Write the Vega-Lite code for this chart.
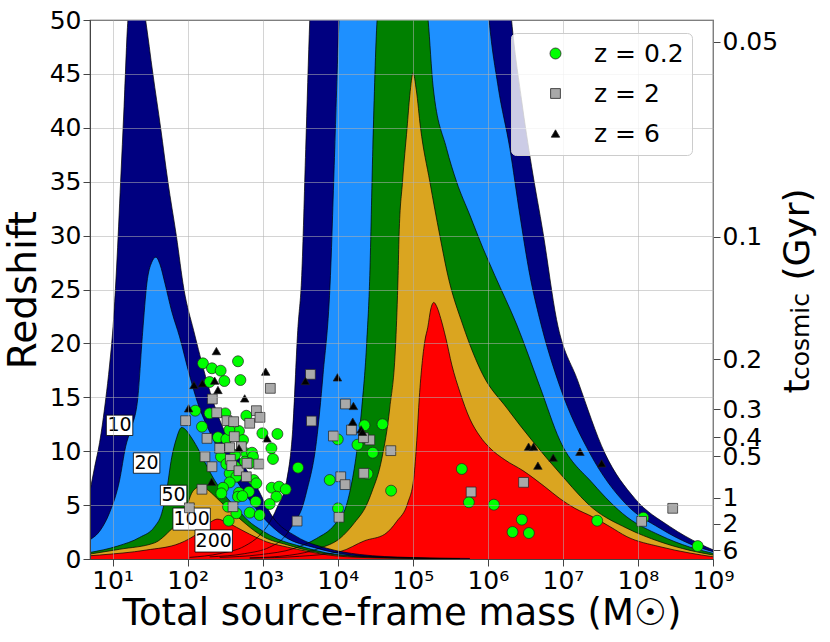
{
  "$schema": "https://vega.github.io/schema/vega-lite/v6.json",
  "width": 623,
  "height": 539,
  "autosize": {"type": "none"},
  "padding": {"left": 90, "top": 20, "right": 117, "bottom": 83},
  "config": {
    "font": "DejaVu Sans",
    "view": {"stroke": "#444", "strokeWidth": 1.2},
    "axis": {
      "labelColor": "#000", "titleColor": "#000", "tickColor": "#444", "domainColor": "#444",
      "labelFontSize": 25, "tickSize": 7, "labelPadding": 2, "titleFontWeight": "normal", "labelOverlap": false
    }
  },
  "datasets": {
    "curves": [
      {"det":"B","snr":10,"lm":2.027,"z":0.15},{"det":"B","snr":10,"lm":2.427,"z":0.5},{"det":"B","snr":10,"lm":2.76,"z":1.2},{"det":"B","snr":10,"lm":2.96,"z":2.2},{"det":"B","snr":10,"lm":3.093,"z":3.4},{"det":"B","snr":10,"lm":3.187,"z":4.7},{"det":"B","snr":10,"lm":3.32,"z":7.3},{"det":"B","snr":10,"lm":3.4,"z":12},{"det":"B","snr":10,"lm":3.467,"z":21.2},{"det":"B","snr":10,"lm":3.52,"z":26.3},{"det":"B","snr":10,"lm":3.573,"z":38},{"det":"B","snr":10,"lm":3.627,"z":50},{"det":"B","snr":10,"lm":3.76,"z":65},{"det":"B","snr":10,"lm":4.96,"z":75},{"det":"B","snr":10,"lm":6.16,"z":65},{"det":"B","snr":10,"lm":6.316,"z":50},{"det":"B","snr":10,"lm":6.449,"z":42.6},{"det":"B","snr":10,"lm":6.583,"z":36.4},{"det":"B","snr":10,"lm":6.737,"z":30.2},{"det":"B","snr":10,"lm":6.916,"z":22.2},{"det":"B","snr":10,"lm":7.2,"z":16.5},{"det":"B","snr":10,"lm":7.56,"z":9.8},{"det":"B","snr":10,"lm":7.96,"z":5.6},{"det":"B","snr":10,"lm":8.427,"z":3.0},{"det":"B","snr":10,"lm":8.827,"z":1.4},{"det":"B","snr":10,"lm":9.0,"z":0.85},
      {"det":"B","snr":20,"lm":2.293,"z":0.2},{"det":"B","snr":20,"lm":2.76,"z":0.5},{"det":"B","snr":20,"lm":3.093,"z":1.1},{"det":"B","snr":20,"lm":3.271,"z":1.9},{"det":"B","snr":20,"lm":3.4,"z":3.15},{"det":"B","snr":20,"lm":3.537,"z":5.0},{"det":"B","snr":20,"lm":3.583,"z":6.2},{"det":"B","snr":20,"lm":3.716,"z":10.9},{"det":"B","snr":20,"lm":3.804,"z":17.1},{"det":"B","snr":20,"lm":3.903,"z":26.3},{"det":"B","snr":20,"lm":3.96,"z":38},{"det":"B","snr":20,"lm":4.017,"z":50},{"det":"B","snr":20,"lm":4.16,"z":62},{"det":"B","snr":20,"lm":5.027,"z":70},{"det":"B","snr":20,"lm":5.893,"z":62},{"det":"B","snr":20,"lm":6.017,"z":50},{"det":"B","snr":20,"lm":6.137,"z":43.8},{"det":"B","snr":20,"lm":6.293,"z":38.1},{"det":"B","snr":20,"lm":6.427,"z":31.9},{"det":"B","snr":20,"lm":6.56,"z":26.3},{"det":"B","snr":20,"lm":6.693,"z":22.2},{"det":"B","snr":20,"lm":6.96,"z":16},{"det":"B","snr":20,"lm":7.36,"z":9.8},{"det":"B","snr":20,"lm":7.853,"z":5.0},{"det":"B","snr":20,"lm":8.293,"z":2.85},{"det":"B","snr":20,"lm":8.693,"z":1.4},{"det":"B","snr":20,"lm":9.0,"z":0.68},
      {"det":"B","snr":50,"lm":2.427,"z":0.15},{"det":"B","snr":50,"lm":2.96,"z":0.4},{"det":"B","snr":50,"lm":3.427,"z":1.0},{"det":"B","snr":50,"lm":3.716,"z":1.9},{"det":"B","snr":50,"lm":3.96,"z":3.2},{"det":"B","snr":50,"lm":4.116,"z":5.0},{"det":"B","snr":50,"lm":4.16,"z":6.2},{"det":"B","snr":50,"lm":4.24,"z":9.3},{"det":"B","snr":50,"lm":4.32,"z":14},{"det":"B","snr":50,"lm":4.387,"z":20.2},{"det":"B","snr":50,"lm":4.427,"z":26.3},{"det":"B","snr":50,"lm":4.467,"z":38},{"det":"B","snr":50,"lm":4.524,"z":50},{"det":"B","snr":50,"lm":4.627,"z":56},{"det":"B","snr":50,"lm":4.867,"z":59},{"det":"B","snr":50,"lm":5.093,"z":56},{"det":"B","snr":50,"lm":5.204,"z":50},{"det":"B","snr":50,"lm":5.271,"z":43.8},{"det":"B","snr":50,"lm":5.449,"z":38.1},{"det":"B","snr":50,"lm":5.583,"z":35},{"det":"B","snr":50,"lm":5.76,"z":31.9},{"det":"B","snr":50,"lm":5.937,"z":28.8},{"det":"B","snr":50,"lm":6.093,"z":26.3},{"det":"B","snr":50,"lm":6.387,"z":21.7},{"det":"B","snr":50,"lm":6.693,"z":16},{"det":"B","snr":50,"lm":6.96,"z":11.0},{"det":"B","snr":50,"lm":7.4,"z":7.0},{"det":"B","snr":50,"lm":7.853,"z":3.9},{"det":"B","snr":50,"lm":8.293,"z":2.2},{"det":"B","snr":50,"lm":8.693,"z":1.1},{"det":"B","snr":50,"lm":9.0,"z":0.53},
      {"det":"B","snr":100,"lm":2.827,"z":0.1},{"det":"B","snr":100,"lm":3.36,"z":0.35},{"det":"B","snr":100,"lm":3.76,"z":1.0},{"det":"B","snr":100,"lm":4.027,"z":1.9},{"det":"B","snr":100,"lm":4.227,"z":3.4},{"det":"B","snr":100,"lm":4.383,"z":5.0},{"det":"B","snr":100,"lm":4.453,"z":6.2},{"det":"B","snr":100,"lm":4.587,"z":9.3},{"det":"B","snr":100,"lm":4.693,"z":14},{"det":"B","snr":100,"lm":4.773,"z":20.2},{"det":"B","snr":100,"lm":4.804,"z":26.3},{"det":"B","snr":100,"lm":4.817,"z":30},{"det":"B","snr":100,"lm":4.863,"z":35},{"det":"B","snr":100,"lm":4.924,"z":40},{"det":"B","snr":100,"lm":4.96,"z":43},{"det":"B","snr":100,"lm":5.004,"z":45.1},{"det":"B","snr":100,"lm":5.047,"z":43.5},{"det":"B","snr":100,"lm":5.103,"z":40},{"det":"B","snr":100,"lm":5.227,"z":35},{"det":"B","snr":100,"lm":5.36,"z":30},{"det":"B","snr":100,"lm":5.467,"z":26.3},{"det":"B","snr":100,"lm":5.667,"z":21.7},{"det":"B","snr":100,"lm":5.933,"z":17.1},{"det":"B","snr":100,"lm":6.253,"z":14},{"det":"B","snr":100,"lm":6.6,"z":10.9},{"det":"B","snr":100,"lm":6.96,"z":7.95},{"det":"B","snr":100,"lm":7.4,"z":4.7},{"det":"B","snr":100,"lm":7.853,"z":2.85},{"det":"B","snr":100,"lm":8.293,"z":1.6},{"det":"B","snr":100,"lm":8.693,"z":0.8},{"det":"B","snr":100,"lm":9.0,"z":0.37},
      {"det":"B","snr":200,"lm":2.827,"z":0.08},{"det":"B","snr":200,"lm":3.493,"z":0.25},{"det":"B","snr":200,"lm":4.027,"z":0.68},{"det":"B","snr":200,"lm":4.36,"z":1.7},{"det":"B","snr":200,"lm":4.627,"z":2.3},{"det":"B","snr":200,"lm":4.787,"z":3.5},{"det":"B","snr":200,"lm":4.933,"z":5.2},{"det":"B","snr":200,"lm":5.013,"z":7.5},{"det":"B","snr":200,"lm":5.053,"z":11},{"det":"B","snr":200,"lm":5.087,"z":15},{"det":"B","snr":200,"lm":5.16,"z":20.2},{"det":"B","snr":200,"lm":5.2,"z":21.5},{"det":"B","snr":200,"lm":5.24,"z":23.2},{"det":"B","snr":200,"lm":5.28,"z":23.8},{"det":"B","snr":200,"lm":5.32,"z":23.4},{"det":"B","snr":200,"lm":5.373,"z":22.3},{"det":"B","snr":200,"lm":5.44,"z":20.5},{"det":"B","snr":200,"lm":5.52,"z":18.0},{"det":"B","snr":200,"lm":5.627,"z":15.5},{"det":"B","snr":200,"lm":5.76,"z":13.0},{"det":"B","snr":200,"lm":5.893,"z":11.4},{"det":"B","snr":200,"lm":6.027,"z":10.3},{"det":"B","snr":200,"lm":6.227,"z":9.2},{"det":"B","snr":200,"lm":6.467,"z":8.2},{"det":"B","snr":200,"lm":6.76,"z":6.7},{"det":"B","snr":200,"lm":6.96,"z":5.6},{"det":"B","snr":200,"lm":7.16,"z":4.7},{"det":"B","snr":200,"lm":7.4,"z":3.9},{"det":"B","snr":200,"lm":7.627,"z":3.0},{"det":"B","snr":200,"lm":7.853,"z":2.07},{"det":"B","snr":200,"lm":8.293,"z":1.14},{"det":"B","snr":200,"lm":8.693,"z":0.55},{"det":"B","snr":200,"lm":9.0,"z":0.21},
      {"det":"A","snr":10,"lm":0.693,"z":6.1},{"det":"A","snr":10,"lm":0.76,"z":8.5},{"det":"A","snr":10,"lm":0.827,"z":10.8},{"det":"A","snr":10,"lm":0.907,"z":14.75},{"det":"A","snr":10,"lm":0.96,"z":18},{"det":"A","snr":10,"lm":1.013,"z":22.2},{"det":"A","snr":10,"lm":1.053,"z":27},{"det":"A","snr":10,"lm":1.107,"z":35},{"det":"A","snr":10,"lm":1.153,"z":42},{"det":"A","snr":10,"lm":1.204,"z":50},{"det":"A","snr":10,"lm":1.267,"z":53},{"det":"A","snr":10,"lm":1.32,"z":54},{"det":"A","snr":10,"lm":1.373,"z":53},{"det":"A","snr":10,"lm":1.44,"z":50},{"det":"A","snr":10,"lm":1.537,"z":45},{"det":"A","snr":10,"lm":1.64,"z":40},{"det":"A","snr":10,"lm":1.737,"z":35},{"det":"A","snr":10,"lm":1.849,"z":30},{"det":"A","snr":10,"lm":1.951,"z":25},{"det":"A","snr":10,"lm":2.08,"z":21.2},{"det":"A","snr":10,"lm":2.333,"z":14.75},{"det":"A","snr":10,"lm":2.427,"z":12.9},{"det":"A","snr":10,"lm":2.653,"z":9.8},{"det":"A","snr":10,"lm":2.92,"z":6.7},{"det":"A","snr":10,"lm":3.133,"z":3.9},{"det":"A","snr":10,"lm":3.453,"z":2.07},{"det":"A","snr":10,"lm":3.853,"z":1.0},{"det":"A","snr":10,"lm":4.293,"z":0.42},{"det":"A","snr":10,"lm":4.96,"z":0.14},{"det":"A","snr":10,"lm":5.76,"z":0.05},
      {"det":"A","snr":20,"lm":0.693,"z":1.76},{"det":"A","snr":20,"lm":0.84,"z":2.7},{"det":"A","snr":20,"lm":0.96,"z":4.3},{"det":"A","snr":20,"lm":1.093,"z":7.3},{"det":"A","snr":20,"lm":1.173,"z":10.4},{"det":"A","snr":20,"lm":1.24,"z":12},{"det":"A","snr":20,"lm":1.333,"z":14.75},{"det":"A","snr":20,"lm":1.4,"z":21},{"det":"A","snr":20,"lm":1.457,"z":25.6},{"det":"A","snr":20,"lm":1.52,"z":27.5},{"det":"A","snr":20,"lm":1.577,"z":28.0},{"det":"A","snr":20,"lm":1.633,"z":27.3},{"det":"A","snr":20,"lm":1.697,"z":25.6},{"det":"A","snr":20,"lm":1.787,"z":23},{"det":"A","snr":20,"lm":1.893,"z":20.6},{"det":"A","snr":20,"lm":2.027,"z":17},{"det":"A","snr":20,"lm":2.133,"z":14.5},{"det":"A","snr":20,"lm":2.293,"z":11.8},{"det":"A","snr":20,"lm":2.52,"z":8.8},{"det":"A","snr":20,"lm":2.773,"z":6},{"det":"A","snr":20,"lm":3.0,"z":3.9},{"det":"A","snr":20,"lm":3.293,"z":2.07},{"det":"A","snr":20,"lm":3.693,"z":1.05},{"det":"A","snr":20,"lm":4.16,"z":0.38},{"det":"A","snr":20,"lm":4.827,"z":0.12},{"det":"A","snr":20,"lm":5.627,"z":0.04},
      {"det":"A","snr":50,"lm":0.693,"z":0.6},{"det":"A","snr":50,"lm":1.067,"z":1.2},{"det":"A","snr":50,"lm":1.36,"z":2.0},{"det":"A","snr":50,"lm":1.56,"z":3.0},{"det":"A","snr":50,"lm":1.653,"z":4.2},{"det":"A","snr":50,"lm":1.713,"z":6.0},{"det":"A","snr":50,"lm":1.787,"z":9.4},{"det":"A","snr":50,"lm":1.847,"z":11.1},{"det":"A","snr":50,"lm":1.92,"z":12.2},{"det":"A","snr":50,"lm":1.973,"z":12.0},{"det":"A","snr":50,"lm":2.027,"z":11.5},{"det":"A","snr":50,"lm":2.133,"z":10.3},{"det":"A","snr":50,"lm":2.227,"z":9.0},{"det":"A","snr":50,"lm":2.36,"z":7.3},{"det":"A","snr":50,"lm":2.533,"z":5.6},{"det":"A","snr":50,"lm":2.667,"z":4.6},{"det":"A","snr":50,"lm":2.8,"z":3.6},{"det":"A","snr":50,"lm":3.0,"z":2.6},{"det":"A","snr":50,"lm":3.2,"z":1.85},{"det":"A","snr":50,"lm":3.493,"z":1.2},{"det":"A","snr":50,"lm":3.96,"z":0.45},{"det":"A","snr":50,"lm":4.827,"z":0.1},{"det":"A","snr":50,"lm":5.627,"z":0.03},
      {"det":"A","snr":100,"lm":0.693,"z":0.45},{"det":"A","snr":100,"lm":1.093,"z":0.9},{"det":"A","snr":100,"lm":1.56,"z":1.5},{"det":"A","snr":100,"lm":1.76,"z":2.6},{"det":"A","snr":100,"lm":1.893,"z":3.6},{"det":"A","snr":100,"lm":1.987,"z":4.85},{"det":"A","snr":100,"lm":2.053,"z":6.1},{"det":"A","snr":100,"lm":2.107,"z":6.55},{"det":"A","snr":100,"lm":2.16,"z":6.7},{"det":"A","snr":100,"lm":2.227,"z":6.6},{"det":"A","snr":100,"lm":2.32,"z":6.1},{"det":"A","snr":100,"lm":2.44,"z":5.3},{"det":"A","snr":100,"lm":2.667,"z":3.9},{"det":"A","snr":100,"lm":2.893,"z":2.6},{"det":"A","snr":100,"lm":3.0,"z":2.1},{"det":"A","snr":100,"lm":3.333,"z":1.3},{"det":"A","snr":100,"lm":3.773,"z":0.55},{"det":"A","snr":100,"lm":4.293,"z":0.2},{"det":"A","snr":100,"lm":5.093,"z":0.07},
      {"det":"A","snr":200,"lm":0.693,"z":0.3},{"det":"A","snr":200,"lm":0.827,"z":0.37},{"det":"A","snr":200,"lm":1.449,"z":0.83},{"det":"A","snr":200,"lm":1.893,"z":1.45},{"det":"A","snr":200,"lm":2.137,"z":2.4},{"det":"A","snr":200,"lm":2.267,"z":3.2},{"det":"A","snr":200,"lm":2.333,"z":3.55},{"det":"A","snr":200,"lm":2.4,"z":3.7},{"det":"A","snr":200,"lm":2.493,"z":3.5},{"det":"A","snr":200,"lm":2.649,"z":2.95},{"det":"A","snr":200,"lm":2.827,"z":2.3},{"det":"A","snr":200,"lm":3.049,"z":1.6},{"det":"A","snr":200,"lm":3.333,"z":1.1},{"det":"A","snr":200,"lm":3.583,"z":0.72},{"det":"A","snr":200,"lm":3.983,"z":0.28},{"det":"A","snr":200,"lm":4.56,"z":0.1},{"det":"A","snr":200,"lm":5.36,"z":0.04}
    ],
    "labels": [
      {"label":"10","lm":1.093,"z":12.4},{"label":"20","lm":1.453,"z":8.9},{"label":"50","lm":1.813,"z":5.9},{"label":"100","lm":2.053,"z":3.7},{"label":"200","lm":2.347,"z":1.67}
    ],
    "points": [
      {"series":"z = 0.2","lm":2.204,"z":18.15},{"series":"z = 0.2","lm":2.324,"z":17.69},{"series":"z = 0.2","lm":2.44,"z":17.47},{"series":"z = 0.2","lm":2.671,"z":18.34},{"series":"z = 0.2","lm":2.293,"z":16.42},{"series":"z = 0.2","lm":2.489,"z":16.51},{"series":"z = 0.2","lm":2.703,"z":16.6},{"series":"z = 0.2","lm":2.102,"z":13.76},{"series":"z = 0.2","lm":2.293,"z":13.51},{"series":"z = 0.2","lm":2.502,"z":13.51},{"series":"z = 0.2","lm":2.782,"z":13.29},{"series":"z = 0.2","lm":2.191,"z":12.27},{"series":"z = 0.2","lm":2.404,"z":11.29},{"series":"z = 0.2","lm":2.516,"z":11.13},{"series":"z = 0.2","lm":2.684,"z":11.87},{"series":"z = 0.2","lm":2.556,"z":11.97},{"series":"z = 0.2","lm":2.738,"z":11.04},{"series":"z = 0.2","lm":2.996,"z":11.66},{"series":"z = 0.2","lm":3.196,"z":11.6},{"series":"z = 0.2","lm":3.116,"z":10.27},{"series":"z = 0.2","lm":3.137,"z":9.28},{"series":"z = 0.2","lm":2.444,"z":9.49},{"series":"z = 0.2","lm":2.631,"z":9.65},{"series":"z = 0.2","lm":2.782,"z":9.8},{"series":"z = 0.2","lm":2.858,"z":9.86},{"series":"z = 0.2","lm":2.871,"z":9.49},{"series":"z = 0.2","lm":2.764,"z":9.03},{"series":"z = 0.2","lm":2.516,"z":8.81},{"series":"z = 0.2","lm":2.631,"z":8.56},{"series":"z = 0.2","lm":2.827,"z":8.88},{"series":"z = 0.2","lm":2.56,"z":7.95},{"series":"z = 0.2","lm":2.649,"z":7.63},{"series":"z = 0.2","lm":2.56,"z":7.11},{"series":"z = 0.2","lm":2.88,"z":7.33},{"series":"z = 0.2","lm":2.916,"z":7.02},{"series":"z = 0.2","lm":2.471,"z":6.61},{"series":"z = 0.2","lm":2.449,"z":6.09},{"series":"z = 0.2","lm":2.684,"z":6.15},{"series":"z = 0.2","lm":2.817,"z":6.24},{"series":"z = 0.2","lm":2.671,"z":5.78},{"series":"z = 0.2","lm":2.729,"z":5.84},{"series":"z = 0.2","lm":2.907,"z":5.32},{"series":"z = 0.2","lm":3.12,"z":6.61},{"series":"z = 0.2","lm":3.218,"z":6.71},{"series":"z = 0.2","lm":3.307,"z":6.47},{"series":"z = 0.2","lm":3.182,"z":5.78},{"series":"z = 0.2","lm":3.093,"z":5.1},{"series":"z = 0.2","lm":2.827,"z":4.3},{"series":"z = 0.2","lm":2.96,"z":4.08},{"series":"z = 0.2","lm":2.547,"z":3.55},{"series":"z = 0.2","lm":2.538,"z":4.85},{"series":"z = 0.2","lm":2.649,"z":4.24},{"series":"z = 0.2","lm":3.471,"z":8.47},{"series":"z = 0.2","lm":3.893,"z":7.33},{"series":"z = 0.2","lm":4.004,"z":4.7},{"series":"z = 0.2","lm":4.0,"z":11.1},{"series":"z = 0.2","lm":4.356,"z":12.4},{"series":"z = 0.2","lm":4.596,"z":12.5},{"series":"z = 0.2","lm":4.263,"z":10.6},{"series":"z = 0.2","lm":4.467,"z":9.86},{"series":"z = 0.2","lm":4.396,"z":7.9},{"series":"z = 0.2","lm":4.711,"z":6.34},{"series":"z = 0.2","lm":5.653,"z":8.35},{"series":"z = 0.2","lm":5.747,"z":5.26},{"series":"z = 0.2","lm":6.08,"z":5.04},{"series":"z = 0.2","lm":6.453,"z":3.65},{"series":"z = 0.2","lm":6.329,"z":2.5},{"series":"z = 0.2","lm":6.547,"z":2.41},{"series":"z = 0.2","lm":7.457,"z":3.55},{"series":"z = 0.2","lm":8.071,"z":3.83},{"series":"z = 0.2","lm":8.796,"z":1.2},
      {"series":"z = 2","lm":1.973,"z":12.83},{"series":"z = 2","lm":2.329,"z":14.84},{"series":"z = 2","lm":2.387,"z":13.57},{"series":"z = 2","lm":2.524,"z":12.83},{"series":"z = 2","lm":2.613,"z":12.74},{"series":"z = 2","lm":2.827,"z":12.59},{"series":"z = 2","lm":2.916,"z":13.76},{"series":"z = 2","lm":2.964,"z":13.14},{"series":"z = 2","lm":3.102,"z":15.83},{"series":"z = 2","lm":2.258,"z":11.19},{"series":"z = 2","lm":2.622,"z":11.35},{"series":"z = 2","lm":2.427,"z":10.27},{"series":"z = 2","lm":2.56,"z":10.33},{"series":"z = 2","lm":2.716,"z":10.42},{"series":"z = 2","lm":2.231,"z":9.49},{"series":"z = 2","lm":2.324,"z":8.56},{"series":"z = 2","lm":2.569,"z":9.25},{"series":"z = 2","lm":2.587,"z":8.66},{"series":"z = 2","lm":2.684,"z":8.19},{"series":"z = 2","lm":2.791,"z":8.88},{"series":"z = 2","lm":2.947,"z":8.81},{"series":"z = 2","lm":2.782,"z":7.63},{"series":"z = 2","lm":2.191,"z":6.47},{"series":"z = 2","lm":2.604,"z":4.85},{"series":"z = 2","lm":2.023,"z":4.75},{"series":"z = 2","lm":3.458,"z":3.52},{"series":"z = 2","lm":3.636,"z":17.13},{"series":"z = 2","lm":3.649,"z":12.8},{"series":"z = 2","lm":3.942,"z":11.41},{"series":"z = 2","lm":4.017,"z":3.87},{"series":"z = 2","lm":4.04,"z":7.63},{"series":"z = 2","lm":4.103,"z":14.38},{"series":"z = 2","lm":4.098,"z":6.9},{"series":"z = 2","lm":4.183,"z":11.97},{"series":"z = 2","lm":4.347,"z":7.95},{"series":"z = 2","lm":4.427,"z":11.04},{"series":"z = 2","lm":4.343,"z":11.25},{"series":"z = 2","lm":4.707,"z":10.05},{"series":"z = 2","lm":5.777,"z":6.22},{"series":"z = 2","lm":6.476,"z":7.11},{"series":"z = 2","lm":8.463,"z":4.7},{"series":"z = 2","lm":8.049,"z":3.49},
      {"series":"z = 6","lm":2.383,"z":19.29},{"series":"z = 6","lm":2.084,"z":16.14},{"series":"z = 6","lm":2.196,"z":16.3},{"series":"z = 6","lm":2.36,"z":16.54},{"series":"z = 6","lm":2.404,"z":15.68},{"series":"z = 6","lm":2.76,"z":14.9},{"series":"z = 6","lm":3.04,"z":17.38},{"series":"z = 6","lm":2.013,"z":13.98},{"series":"z = 6","lm":3.057,"z":11.19},{"series":"z = 6","lm":2.684,"z":10.27},{"series":"z = 6","lm":2.32,"z":7.17},{"series":"z = 6","lm":3.569,"z":16.51},{"series":"z = 6","lm":3.996,"z":16.85},{"series":"z = 6","lm":4.209,"z":14.2},{"series":"z = 6","lm":4.2,"z":12.74},{"series":"z = 6","lm":4.311,"z":12.03},{"series":"z = 6","lm":4.329,"z":11.8},{"series":"z = 6","lm":6.543,"z":10.42},{"series":"z = 6","lm":6.609,"z":10.42},{"series":"z = 6","lm":6.667,"z":8.66},{"series":"z = 6","lm":6.871,"z":9.4},{"series":"z = 6","lm":7.227,"z":9.95},{"series":"z = 6","lm":7.516,"z":8.88}
    ]
  },
  "layer": [
    {
      "encoding": {
        "x": {
          "field": "lm", "type": "quantitative",
          "scale": {"domain": [0.699, 9], "nice": false, "zero": false},
          "axis": {
            "values": [1, 2, 3, 4, 5, 6, 7, 8, 9],
            "labelExpr": "'10' + ['⁰','¹','²','³','⁴','⁵','⁶','⁷','⁸','⁹'][datum.value]",
            "labelFlush": false,
            "title": "Total source-frame mass (M☉)", "titleFontSize": 37,
            "titleBaseline": "alphabetic", "titleY": 65,
            "grid": true, "gridColor": "#b0b0b0", "gridOpacity": 0.55, "zindex": 1
          }
        },
        "y": {
          "field": "z", "type": "quantitative",
          "scale": {"domain": [0, 50], "nice": false, "zero": false},
          "axis": {
            "orient": "left",
            "values": [0, 5, 10, 15, 20, 25, 30, 35, 40, 45, 50],
            "labelFlush": false,
            "title": "Redshift", "titleFontSize": 39, "titlePadding": 6,
            "grid": true, "gridColor": "#b0b0b0", "gridOpacity": 0.55, "zindex": 1
          }
        }
      },
      "layer": [
        {"data": {"name": "curves"}, "transform": [{"filter": "datum.det == 'B' && datum.snr == 10"}], "mark": {"type": "area", "color": "#000080", "interpolate": "monotone", "clip": true}, "encoding": {"y2": {"datum": 0}}},
        {"data": {"name": "curves"}, "transform": [{"filter": "datum.det == 'B' && datum.snr == 20"}], "mark": {"type": "area", "color": "#1e90ff", "interpolate": "monotone", "clip": true}, "encoding": {"y2": {"datum": 0}}},
        {"data": {"name": "curves"}, "transform": [{"filter": "datum.det == 'B' && datum.snr == 50"}], "mark": {"type": "area", "color": "#008000", "interpolate": "monotone", "clip": true}, "encoding": {"y2": {"datum": 0}}},
        {"data": {"name": "curves"}, "transform": [{"filter": "datum.det == 'B' && datum.snr == 100"}], "mark": {"type": "area", "color": "#daa520", "interpolate": "monotone", "clip": true}, "encoding": {"y2": {"datum": 0}}},
        {"data": {"name": "curves"}, "transform": [{"filter": "datum.det == 'B' && datum.snr == 200"}], "mark": {"type": "area", "color": "#ff0000", "interpolate": "monotone", "clip": true}, "encoding": {"y2": {"datum": 0}}},
        {"data": {"name": "curves"}, "transform": [{"filter": "datum.det == 'A' && datum.snr == 10"}], "mark": {"type": "area", "color": "#000080", "interpolate": "monotone", "clip": true}, "encoding": {"y2": {"datum": 0}}},
        {"data": {"name": "curves"}, "transform": [{"filter": "datum.det == 'A' && datum.snr == 20"}], "mark": {"type": "area", "color": "#1e90ff", "interpolate": "monotone", "clip": true}, "encoding": {"y2": {"datum": 0}}},
        {"data": {"name": "curves"}, "transform": [{"filter": "datum.det == 'A' && datum.snr == 50"}], "mark": {"type": "area", "color": "#008000", "interpolate": "monotone", "clip": true}, "encoding": {"y2": {"datum": 0}}},
        {"data": {"name": "curves"}, "transform": [{"filter": "datum.det == 'A' && datum.snr == 100"}], "mark": {"type": "area", "color": "#daa520", "interpolate": "monotone", "clip": true}, "encoding": {"y2": {"datum": 0}}},
        {"data": {"name": "curves"}, "transform": [{"filter": "datum.det == 'A' && datum.snr == 200"}], "mark": {"type": "area", "color": "#ff0000", "interpolate": "monotone", "clip": true}, "encoding": {"y2": {"datum": 0}}},
        {
          "data": {"name": "curves"},
          "mark": {"type": "line", "color": "#000", "strokeWidth": 0.7, "interpolate": "monotone", "clip": true},
          "encoding": {"detail": [{"field": "det"}, {"field": "snr"}]}
        },
        {
          "data": {"name": "labels"},
          "transform": [{"filter": "length(datum.label) == 2"}],
          "mark": {"type": "point", "shape": "M-1,-0.77H1V0.77H-1Z", "size": 700, "filled": true, "fill": "#fff", "stroke": "#000", "strokeWidth": 0.8, "opacity": 1}
        },
        {
          "data": {"name": "labels"},
          "transform": [{"filter": "length(datum.label) == 3"}],
          "mark": {"type": "point", "shape": "M-1,-0.59H1V0.59H-1Z", "size": 1400, "filled": true, "fill": "#fff", "stroke": "#000", "strokeWidth": 0.8, "opacity": 1}
        },
        {
          "data": {"name": "labels"},
          "mark": {"type": "text", "fontSize": 19, "align": "center", "baseline": "middle", "color": "#000"},
          "encoding": {"text": {"field": "label"}}
        },
        {
          "data": {"name": "points"},
          "mark": {"type": "point", "filled": true, "stroke": "#222", "strokeWidth": 0.7, "opacity": 1},
          "encoding": {
            "color": {
              "field": "series", "type": "nominal",
              "scale": {"domain": ["z = 0.2", "z = 2", "z = 6"], "range": ["#00ff00", "#a9a9a9", "#000000"]},
              "legend": {"orient": "none", "legendX": 421, "legendY": 13, "title": null, "labelFontSize": 25, "symbolSize": 100, "symbolStrokeColor": "#222", "symbolStrokeWidth": 0.8, "rowPadding": 14, "padding": 8, "symbolOffset": 24, "labelOffset": 26, "fillColor": "rgba(255,255,255,0.8)", "strokeColor": "#cccccc", "cornerRadius": 5, "zindex": 3}
            },
            "shape": {
              "field": "series", "type": "nominal",
              "scale": {"domain": ["z = 0.2", "z = 2", "z = 6"], "range": ["circle", "square", "triangle-up"]},
              "legend": {"orient": "none", "legendX": 421, "legendY": 13, "title": null, "labelFontSize": 25, "symbolSize": 100, "symbolStrokeColor": "#222", "symbolStrokeWidth": 0.8, "rowPadding": 14, "padding": 8, "symbolOffset": 24, "labelOffset": 26, "fillColor": "rgba(255,255,255,0.8)", "strokeColor": "#cccccc", "cornerRadius": 5, "zindex": 3}
            },
            "size": {
              "field": "series", "type": "nominal",
              "scale": {"domain": ["z = 0.2", "z = 2", "z = 6"], "range": [120, 72, 115]},
              "legend": null
            }
          }
        }
      ]
    },
    {
      "data": {"values": [{"z": 0}, {"z": 50}]},
      "mark": {"type": "rule", "opacity": 0},
      "encoding": {
        "y": {
          "field": "z", "type": "quantitative",
          "scale": {"domain": [0, 50], "nice": false, "zero": false},
          "axis": {
            "orient": "right", "grid": false, "labelFlush": false,
            "values": [48, 29.9, 18.55, 13.9, 11.3, 9.55, 5.66, 3.25, 0.83],
            "labelExpr": "datum.value == 48 ? '0.05' : datum.value == 29.9 ? '0.1' : datum.value == 18.55 ? '0.2' : datum.value == 13.9 ? '0.3' : datum.value == 11.3 ? '0.4' : datum.value == 9.55 ? '0.5' : datum.value == 5.66 ? '1' : datum.value == 3.25 ? '2' : '6'",
            "title": "(Gyr)", "titleFontSize": 36, "titleAngle": 270, "titleX": 84, "titleY": 214,
            "titleBaseline": "middle", "titleAlign": "center"
          }
        }
      }
    },
    {
      "data": {"values": [{"z": 0}, {"z": 50}]},
      "mark": {"type": "rule", "opacity": 0},
      "encoding": {
        "y": {
          "field": "z", "type": "quantitative",
          "scale": {"domain": [0, 50], "nice": false, "zero": false},
          "axis": {
            "orient": "right", "grid": false, "domain": false, "ticks": false, "labels": false,
            "title": "t", "titleFontSize": 36, "titleAngle": 270, "titleX": 84, "titleY": 366,
            "titleBaseline": "middle", "titleAlign": "center"
          }
        }
      }
    },
    {
      "data": {"values": [{"z": 0}, {"z": 50}]},
      "mark": {"type": "rule", "opacity": 0},
      "encoding": {
        "y": {
          "field": "z", "type": "quantitative",
          "scale": {"domain": [0, 50], "nice": false, "zero": false},
          "axis": {
            "orient": "right", "grid": false, "domain": false, "ticks": false, "labels": false,
            "title": "cosmic", "titleFontSize": 25, "titleAngle": 270, "titleX": 87, "titleY": 316,
            "titleBaseline": "middle", "titleAlign": "center"
          }
        }
      }
    }
  ],
  "resolve": {"scale": {"y": "independent"}}
}
